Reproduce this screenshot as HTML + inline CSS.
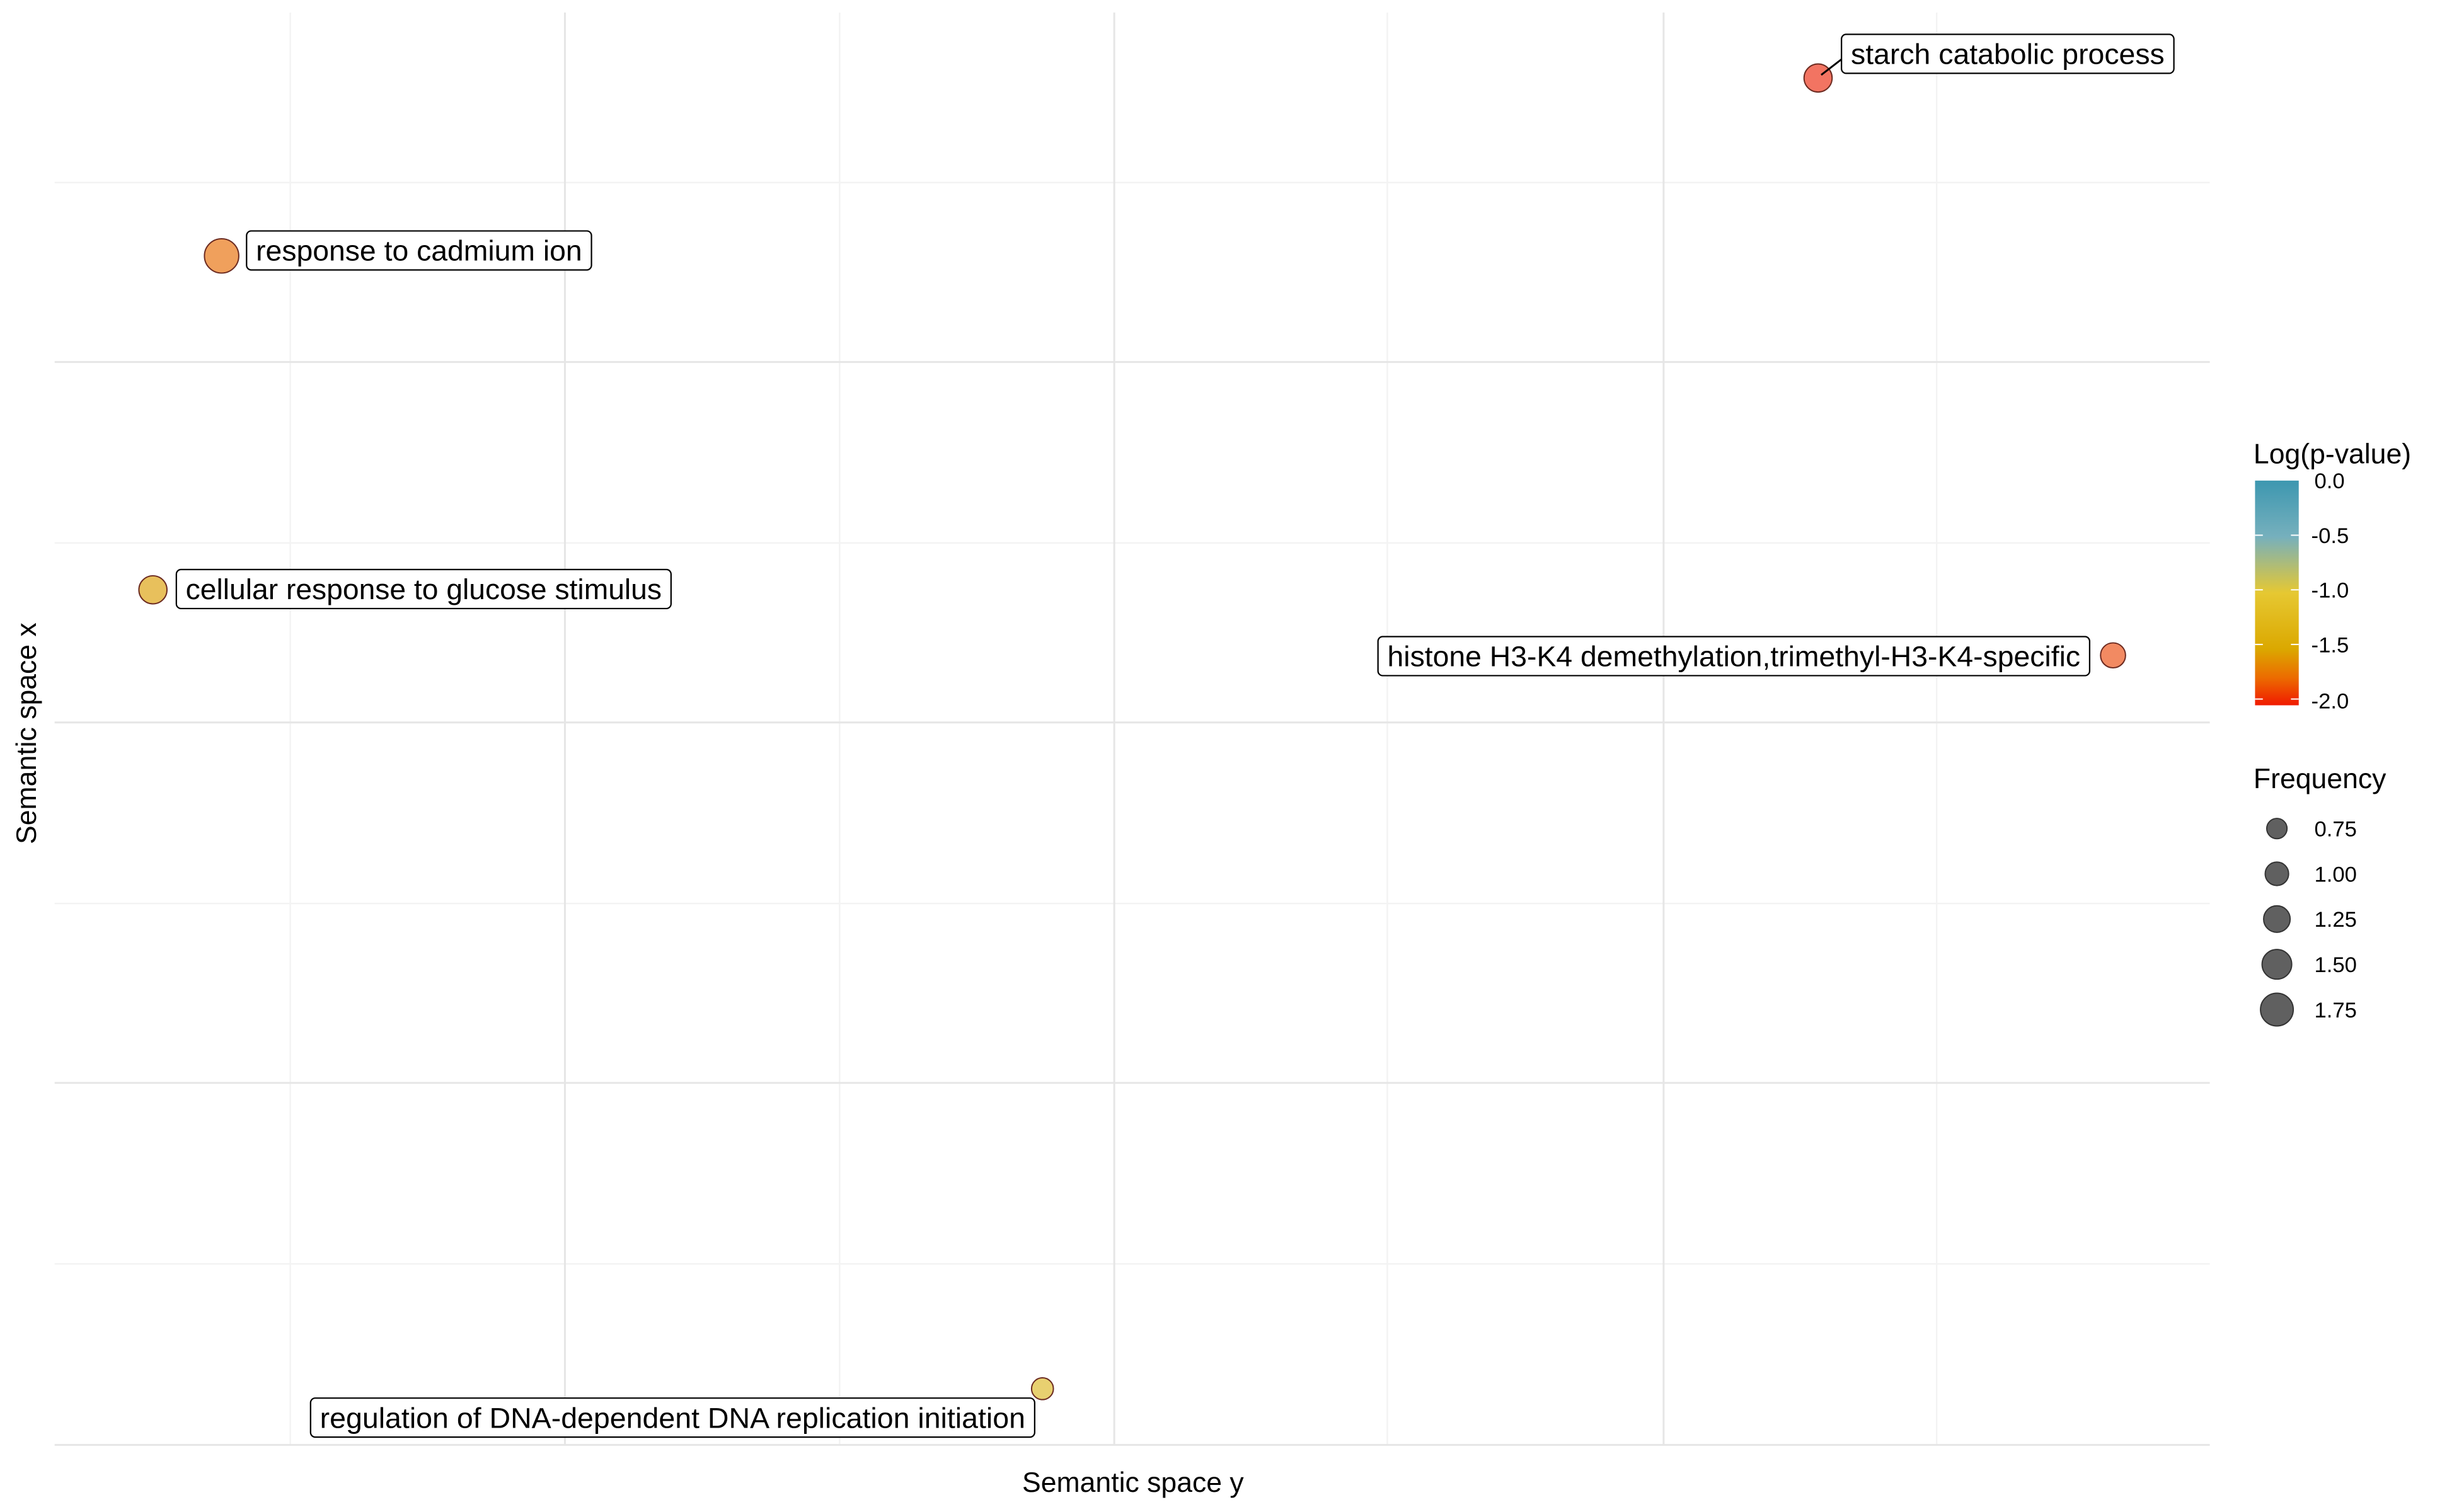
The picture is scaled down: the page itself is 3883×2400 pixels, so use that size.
<!DOCTYPE html>
<html><head><meta charset="utf-8"><style>html,body{margin:0;padding:0;background:#fff}svg{display:block}</style></head>
<body>
<svg width="3883" height="2400" viewBox="0 0 1568 969" preserveAspectRatio="none" xmlns="http://www.w3.org/2000/svg" font-family="Liberation Sans, Arial, sans-serif">
<defs>
<linearGradient id="g" x1="0" y1="0" x2="0" y2="1">
<stop offset="0" stop-color="#3d97b0"/>
<stop offset="0.25" stop-color="#76b0bd"/>
<stop offset="0.5" stop-color="#e6c832"/>
<stop offset="0.75" stop-color="#dba800"/>
<stop offset="0.88" stop-color="#ec6a00"/>
<stop offset="1" stop-color="#f01a00"/>
</linearGradient>
</defs>
<rect width="1568" height="969" fill="#fff"/>
<g stroke="#f3f3f3" stroke-width="1">
<line x1="186" y1="8" x2="186" y2="926"/><line x1="538" y1="8" x2="538" y2="926"/><line x1="889" y1="8" x2="889" y2="926"/><line x1="1241" y1="8" x2="1241" y2="926"/>
<line x1="35" y1="117" x2="1416" y2="117"/><line x1="35" y1="348" x2="1416" y2="348"/><line x1="35" y1="579" x2="1416" y2="579"/><line x1="35" y1="810" x2="1416" y2="810"/>
</g>
<g stroke="#e6e6e6" stroke-width="1.2">
<line x1="362" y1="8" x2="362" y2="926"/><line x1="714" y1="8" x2="714" y2="926"/><line x1="1066" y1="8" x2="1066" y2="926"/>
<line x1="35" y1="232" x2="1416" y2="232"/><line x1="35" y1="463" x2="1416" y2="463"/><line x1="35" y1="694" x2="1416" y2="694"/><line x1="35" y1="926" x2="1416" y2="926"/>
</g>
<g stroke="#6b2a20" stroke-width="0.8">
<circle cx="1165" cy="50" r="9" fill="#f27462"/>
<circle cx="142" cy="164" r="11" fill="#f0a05c"/>
<circle cx="98" cy="378" r="9" fill="#e8c05c"/>
<circle cx="1354" cy="420" r="8" fill="#f28a62"/>
<circle cx="668" cy="890" r="7" fill="#e8d070"/>
</g>
<line x1="1167" y1="48" x2="1180" y2="38" stroke="#000" stroke-width="1.2"/>
<g fill="#fff" stroke="#000" stroke-width="0.9">
<rect x="1180" y="22" width="213" height="25" rx="3"/>
<rect x="158" y="148" width="221" height="25" rx="3"/>
<rect x="113" y="365" width="317" height="25" rx="3"/>
<rect x="883" y="408" width="456" height="25" rx="3"/>
<rect x="199" y="896" width="464" height="25" rx="3"/>
</g>
<g font-size="18.3" fill="#000">
<text x="1186" y="41" textLength="201" lengthAdjust="spacingAndGlyphs">starch catabolic process</text>
<text x="164" y="167" textLength="209" lengthAdjust="spacingAndGlyphs">response to cadmium ion</text>
<text x="119" y="384" textLength="305" lengthAdjust="spacingAndGlyphs">cellular response to glucose stimulus</text>
<text x="889" y="427" textLength="444" lengthAdjust="spacingAndGlyphs">histone H3-K4 demethylation,trimethyl-H3-K4-specific</text>
<text x="205" y="915" textLength="452" lengthAdjust="spacingAndGlyphs">regulation of DNA-dependent DNA replication initiation</text>
</g>
<text x="726" y="956" font-size="18" text-anchor="middle">Semantic space y</text>
<text transform="translate(23,470) rotate(-90)" font-size="18" text-anchor="middle">Semantic space x</text>
<text x="1444" y="297" font-size="18">Log(p-value)</text>
<rect x="1445" y="308" width="28" height="144" fill="url(#g)"/>
<g stroke="#fff" stroke-width="0.8">
<line x1="1445" y1="343" x2="1450" y2="343"/><line x1="1468" y1="343" x2="1473" y2="343"/>
<line x1="1445" y1="378" x2="1450" y2="378"/><line x1="1468" y1="378" x2="1473" y2="378"/>
<line x1="1445" y1="413" x2="1450" y2="413"/><line x1="1468" y1="413" x2="1473" y2="413"/>
<line x1="1445" y1="448" x2="1450" y2="448"/><line x1="1468" y1="448" x2="1473" y2="448"/>
</g>
<g font-size="14">
<text x="1483" y="313">0.0</text><text x="1481" y="348">-0.5</text><text x="1481" y="383">-1.0</text><text x="1481" y="418">-1.5</text><text x="1481" y="454">-2.0</text>
</g>
<text x="1444" y="505" font-size="18">Frequency</text>
<g fill="#606060" stroke="#333" stroke-width="0.8">
<circle cx="1459" cy="531" r="6.5"/><circle cx="1459" cy="560" r="7.5"/><circle cx="1459" cy="589" r="8.5"/><circle cx="1459" cy="618" r="9.5"/><circle cx="1459" cy="647" r="10.5"/>
</g>
<g font-size="14">
<text x="1483" y="536">0.75</text><text x="1483" y="565">1.00</text><text x="1483" y="594">1.25</text><text x="1483" y="623">1.50</text><text x="1483" y="652">1.75</text>
</g>
</svg>
</body></html>
